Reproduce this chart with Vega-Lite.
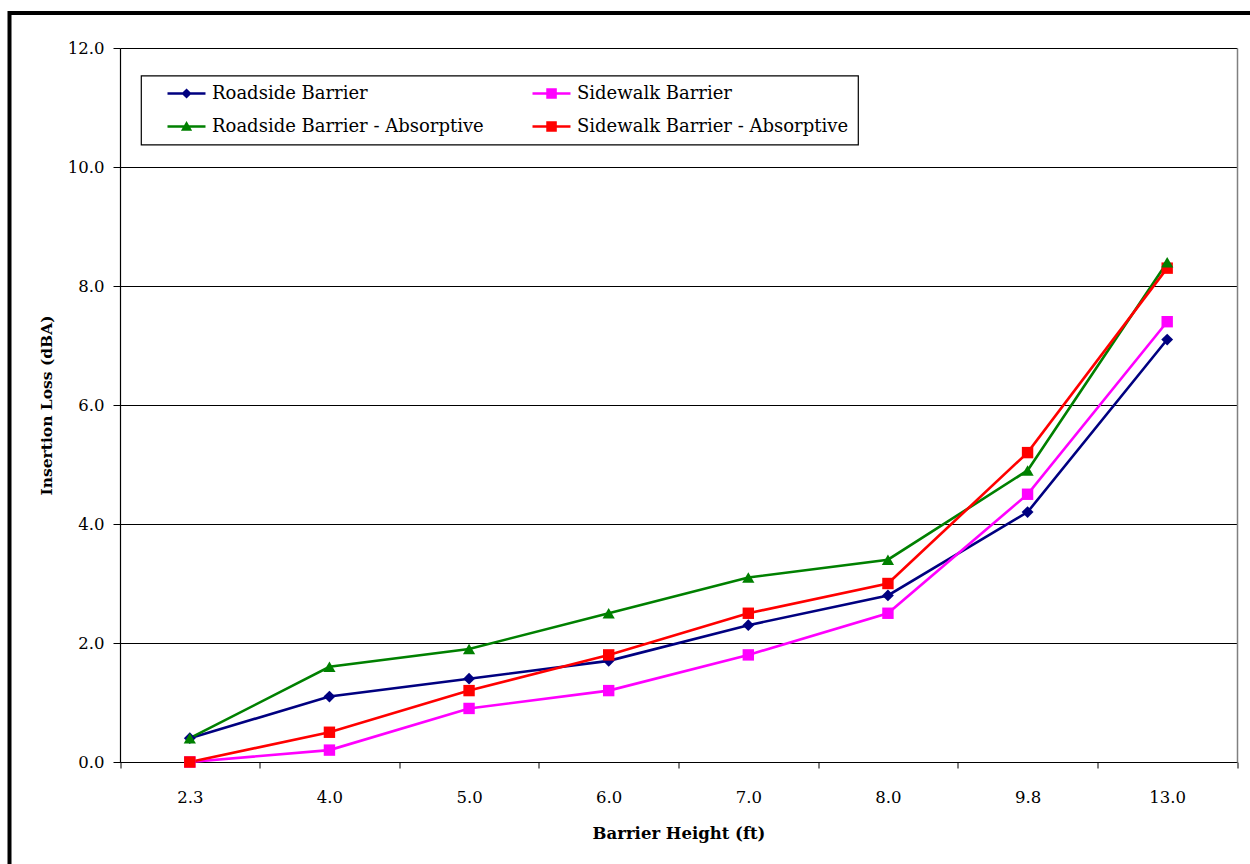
{
  "$schema": "https://vega.github.io/schema/vega-lite/v6.json",
  "width": 1240.5,
  "height": 851,
  "autosize": "none",
  "padding": {"left": 9.5, "top": 13, "right": 0, "bottom": 0},
  "background": "white",
  "config": {
    "view": {"stroke": "black", "strokeWidth": 4, "strokeDash": [1240.5, 2091.5, 851, 1], "fill": "white"},
    "font": "DejaVu Serif",
    "axis": {
      "labelFont": "DejaVu Serif",
      "labelFontSize": 16.5,
      "labelColor": "black",
      "titleFont": "DejaVu Serif",
      "titleFontWeight": "bold",
      "titleColor": "black",
      "tickColor": "black",
      "domainColor": "black",
      "domainWidth": 1.2
    },
    "legend": {
      "orient": "none",
      "direction": "horizontal",
      "legendX": 131.5,
      "legendY": 62.5,
      "columns": 2,
      "columnPadding": 31,
      "rowPadding": 15,
      "padding": 9,
      "strokeColor": "black",
      "strokeWidth": 1.2,
      "fillColor": "white",
      "symbolSize": 289,
      "symbolStrokeWidth": 0,
      "symbolOpacity": 1,
      "labelFont": "DejaVu Serif",
      "labelFontSize": 18,
      "labelColor": "black",
      "labelLimit": 400,
      "labelOffset": 44
    }
  },
  "data": {
    "values": [
      {"height": "2.3", "series": "Roadside Barrier", "loss": 0.4},
      {"height": "4.0", "series": "Roadside Barrier", "loss": 1.1},
      {"height": "5.0", "series": "Roadside Barrier", "loss": 1.4},
      {"height": "6.0", "series": "Roadside Barrier", "loss": 1.7},
      {"height": "7.0", "series": "Roadside Barrier", "loss": 2.3},
      {"height": "8.0", "series": "Roadside Barrier", "loss": 2.8},
      {"height": "9.8", "series": "Roadside Barrier", "loss": 4.2},
      {"height": "13.0", "series": "Roadside Barrier", "loss": 7.1},
      {"height": "2.3", "series": "Sidewalk Barrier", "loss": 0.0},
      {"height": "4.0", "series": "Sidewalk Barrier", "loss": 0.2},
      {"height": "5.0", "series": "Sidewalk Barrier", "loss": 0.9},
      {"height": "6.0", "series": "Sidewalk Barrier", "loss": 1.2},
      {"height": "7.0", "series": "Sidewalk Barrier", "loss": 1.8},
      {"height": "8.0", "series": "Sidewalk Barrier", "loss": 2.5},
      {"height": "9.8", "series": "Sidewalk Barrier", "loss": 4.5},
      {"height": "13.0", "series": "Sidewalk Barrier", "loss": 7.4},
      {"height": "2.3", "series": "Roadside Barrier - Absorptive", "loss": 0.4},
      {"height": "4.0", "series": "Roadside Barrier - Absorptive", "loss": 1.6},
      {"height": "5.0", "series": "Roadside Barrier - Absorptive", "loss": 1.9},
      {"height": "6.0", "series": "Roadside Barrier - Absorptive", "loss": 2.5},
      {"height": "7.0", "series": "Roadside Barrier - Absorptive", "loss": 3.1},
      {"height": "8.0", "series": "Roadside Barrier - Absorptive", "loss": 3.4},
      {"height": "9.8", "series": "Roadside Barrier - Absorptive", "loss": 4.9},
      {"height": "13.0", "series": "Roadside Barrier - Absorptive", "loss": 8.4},
      {"height": "2.3", "series": "Sidewalk Barrier - Absorptive", "loss": 0.0},
      {"height": "4.0", "series": "Sidewalk Barrier - Absorptive", "loss": 0.5},
      {"height": "5.0", "series": "Sidewalk Barrier - Absorptive", "loss": 1.2},
      {"height": "6.0", "series": "Sidewalk Barrier - Absorptive", "loss": 1.8},
      {"height": "7.0", "series": "Sidewalk Barrier - Absorptive", "loss": 2.5},
      {"height": "8.0", "series": "Sidewalk Barrier - Absorptive", "loss": 3.0},
      {"height": "9.8", "series": "Sidewalk Barrier - Absorptive", "loss": 5.2},
      {"height": "13.0", "series": "Sidewalk Barrier - Absorptive", "loss": 8.3}
    ]
  },
  "layer": [
    {
      "mark": {"type": "line", "strokeWidth": 2.6},
      "encoding": {
        "x": {
          "field": "height", "type": "ordinal", "bandPosition": 0.5,
          "scale": {"type": "band", "domain": ["2.3", "4.0", "5.0", "6.0", "7.0", "8.0", "9.8", "13.0"], "range": [110.5, 1227.5], "paddingInner": 0, "paddingOuter": 0},
          "axis": {
            "title": "Barrier Height (ft)", "orient": "bottom", "offset": -102,
            "labelAngle": 0, "tickBand": "extent", "tickSize": 6, "labelPadding": 21,
            "titleFontSize": 16.5, "titlePadding": 20, "grid": false
          }
        },
        "y": {
          "field": "loss", "type": "quantitative",
          "scale": {"domain": [0, 12], "range": [749, 35], "nice": false},
          "axis": {
            "title": "Insertion Loss (dBA)", "orient": "left", "offset": -110.5,
            "values": [0, 2, 4, 6, 8, 10, 12], "format": ".1f",
            "tickSize": 7, "labelPadding": 9,
            "grid": true, "gridColor": "black", "gridWidth": 1, "gridOpacity": 1,
            "titleFontSize": 15.5, "titlePadding": 13
          }
        },
        "color": {
          "field": "series", "type": "nominal", "legend": null,
          "scale": {"domain": ["Roadside Barrier", "Sidewalk Barrier", "Roadside Barrier - Absorptive", "Sidewalk Barrier - Absorptive"], "range": ["#000080", "#ff00ff", "#008000", "#ff0000"]}
        }
      }
    },
    {
      "transform": [{"filter": {"field": "series", "equal": "Roadside Barrier"}}],
      "mark": {"type": "point", "shape": "diamond", "filled": true, "size": 140, "opacity": 1},
      "encoding": {
        "x": {"field": "height", "type": "ordinal", "bandPosition": 0.5, "axis": null},
        "y": {
          "field": "loss", "type": "quantitative",
          "axis": {"orient": "right", "offset": -13, "domainColor": "#808080", "domainWidth": 1.5, "ticks": false, "labels": false, "grid": false, "title": null}
        },
        "color": {
          "field": "series", "type": "nominal", "legend": null,
          "scale": {"domain": ["Roadside Barrier", "Sidewalk Barrier", "Roadside Barrier - Absorptive", "Sidewalk Barrier - Absorptive"], "range": ["#000080", "#ff00ff", "#008000", "#ff0000"]}
        }
      }
    },
    {
      "transform": [{"filter": {"field": "series", "oneOf": ["Sidewalk Barrier", "Sidewalk Barrier - Absorptive"]}}],
      "mark": {"type": "point", "shape": "square", "filled": true, "size": 130, "opacity": 1},
      "encoding": {
        "x": {"field": "height", "type": "ordinal", "bandPosition": 0.5, "axis": null},
        "y": {"field": "loss", "type": "quantitative", "axis": null},
        "color": {
          "field": "series", "type": "nominal", "legend": null,
          "scale": {"domain": ["Roadside Barrier", "Sidewalk Barrier", "Roadside Barrier - Absorptive", "Sidewalk Barrier - Absorptive"], "range": ["#000080", "#ff00ff", "#008000", "#ff0000"]}
        }
      }
    },
    {
      "transform": [{"filter": {"field": "series", "equal": "Roadside Barrier - Absorptive"}}],
      "mark": {"type": "point", "shape": "triangle-up", "filled": true, "size": 150, "opacity": 1},
      "encoding": {
        "x": {"field": "height", "type": "ordinal", "bandPosition": 0.5, "axis": null},
        "y": {"field": "loss", "type": "quantitative", "axis": null},
        "color": {
          "field": "series", "type": "nominal", "legend": null,
          "scale": {"domain": ["Roadside Barrier", "Sidewalk Barrier", "Roadside Barrier - Absorptive", "Sidewalk Barrier - Absorptive"], "range": ["#000080", "#ff00ff", "#008000", "#ff0000"]}
        }
      }
    },
    {
      "transform": [{"filter": "false"}],
      "mark": {"type": "point", "filled": true, "opacity": 1},
      "encoding": {
        "color": {
          "field": "series", "type": "nominal", "legend": {"title": null},
          "scale": {"domain": ["Roadside Barrier", "Sidewalk Barrier", "Roadside Barrier - Absorptive", "Sidewalk Barrier - Absorptive"], "range": ["#000080", "#ff00ff", "#008000", "#ff0000"]}
        },
        "shape": {
          "field": "series", "type": "nominal", "legend": {"title": null},
          "scale": {
            "domain": ["Roadside Barrier", "Sidewalk Barrier", "Roadside Barrier - Absorptive", "Sidewalk Barrier - Absorptive"],
            "range": [
              "M1,-0.15H5.47V0.15H1Z M3.24,-0.6L3.84,0L3.24,0.6L2.64,0Z",
              "M1,-0.15H5.47V0.15H1Z M2.62,-0.62H3.86V0.62H2.62Z",
              "M1,-0.15H5.47V0.15H1Z M3.24,-0.65L3.9,0.5H2.58Z",
              "M1,-0.15H5.47V0.15H1Z M2.62,-0.62H3.86V0.62H2.62Z"
            ]
          }
        }
      }
    }
  ],
  "resolve": {
    "axis": {"x": "independent", "y": "independent"},
    "legend": {"color": "independent", "shape": "independent"}
  }
}
